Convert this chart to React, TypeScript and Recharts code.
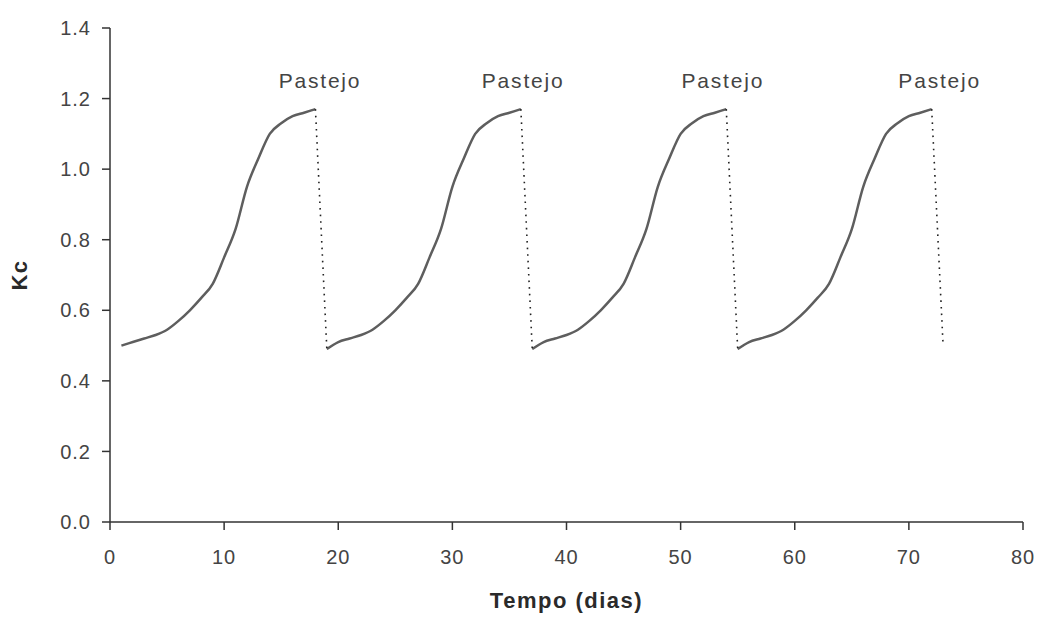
import { Line, LineChart, ReferenceDot, XAxis, YAxis } from "recharts";

// Kc, one growth cycle (days after grazing 0..17)
const DAY_OFFSETS = [0, 1, 2, 3, 4, 5, 6, 7, 8, 9, 10, 11, 12, 13, 14, 15, 16, 17];
const KC_GROWTH = [0.5, 0.51, 0.52, 0.53, 0.545, 0.57, 0.6, 0.635, 0.675, 0.75, 0.83, 0.95, 1.03, 1.1, 1.13, 1.15, 1.16, 1.17];
const KC_AFTER_GRAZING = 0.49;

const CYCLE_STARTS = [1, 19, 37, 55];
const GRAZING_DAYS = [18, 36, 54, 72];
const LABEL_DAYS = [18.4, 36.2, 53.7, 72.7];
const LABEL_KC = 1.252;

const X_TICKS = [0, 10, 20, 30, 40, 50, 60, 70, 80];
const Y_TICKS = [0, 0.2, 0.4, 0.6, 0.8, 1.0, 1.2, 1.4];

const FONT = "'Liberation Sans', Arial, sans-serif";
const AXIS = "#333";

const growth = CYCLE_STARTS.map((start) =>
  DAY_OFFSETS.map((d, i) => ({ day: start + d, kc: KC_GROWTH[i] }))
);
const drops = GRAZING_DAYS.map((day, i) => [
  { day, kc: KC_GROWTH[KC_GROWTH.length - 1] },
  { day: day + 1, kc: i === GRAZING_DAYS.length - 1 ? 0.5 : KC_AFTER_GRAZING },
]);
// the next cycle resumes from the post-grazing value
const curves = growth.map((rows, i) =>
  i === 0 ? rows : [{ day: rows[0].day, kc: KC_AFTER_GRAZING }, ...rows.slice(1)]
);

const tick = { fontSize: 20, fill: "#444", fontFamily: FONT, letterSpacing: 1 };
const title = { fontSize: 22, fontWeight: "bold", fill: "#2a2a2a", fontFamily: FONT, letterSpacing: 1.5 };

export default function App() {
  return (
    <div style={{ background: "#fff", width: 1040, height: 617, overflow: "hidden" }}>
      <style>{"body{margin:0;overflow:hidden}"}</style>
      <LineChart width={1040} height={617} margin={{ top: 28, right: 17, bottom: 0, left: 0 }}>
        <XAxis
          type="number"
          dataKey="day"
          domain={[0, 80]}
          ticks={X_TICKS}
          tick={tick}
          tickSize={8}
          tickMargin={20}
          height={95}
          stroke={AXIS}
          strokeWidth={1.5}
          label={{ value: "Tempo (dias)", position: "insideBottom", offset: 9, style: title }}
        />
        <YAxis
          type="number"
          domain={[0, 1.4]}
          ticks={Y_TICKS}
          tickFormatter={(v: number) => v.toFixed(1)}
          tick={tick}
          tickSize={8}
          tickMargin={11}
          width={110}
          stroke={AXIS}
          strokeWidth={1.5}
          label={{
            value: "Kc",
            angle: -90,
            position: "insideLeft",
            offset: 19,
            style: { ...title, textAnchor: "middle" },
          }}
        />
        {curves.map((rows, i) => (
          <Line
            key={`g${i}`}
            data={rows}
            dataKey="kc"
            type="monotone"
            stroke="#5e5e5e"
            strokeWidth={2.5}
            dot={false}
            isAnimationActive={false}
          />
        ))}
        {drops.map((rows, i) => (
          <Line
            key={`d${i}`}
            data={rows}
            dataKey="kc"
            type="linear"
            stroke="#222"
            strokeWidth={1.6}
            strokeDasharray="1.6 5"
            dot={false}
            isAnimationActive={false}
          />
        ))}
        {LABEL_DAYS.map((day, i) => (
          <ReferenceDot
            key={`l${i}`}
            x={day}
            y={LABEL_KC}
            r={0}
            stroke="none"
            label={{
              value: "Pastejo",
              position: "center",
              style: { fontSize: 21, fill: "#444", fontFamily: FONT, letterSpacing: 1.8 },
            }}
          />
        ))}
      </LineChart>
    </div>
  );
}
